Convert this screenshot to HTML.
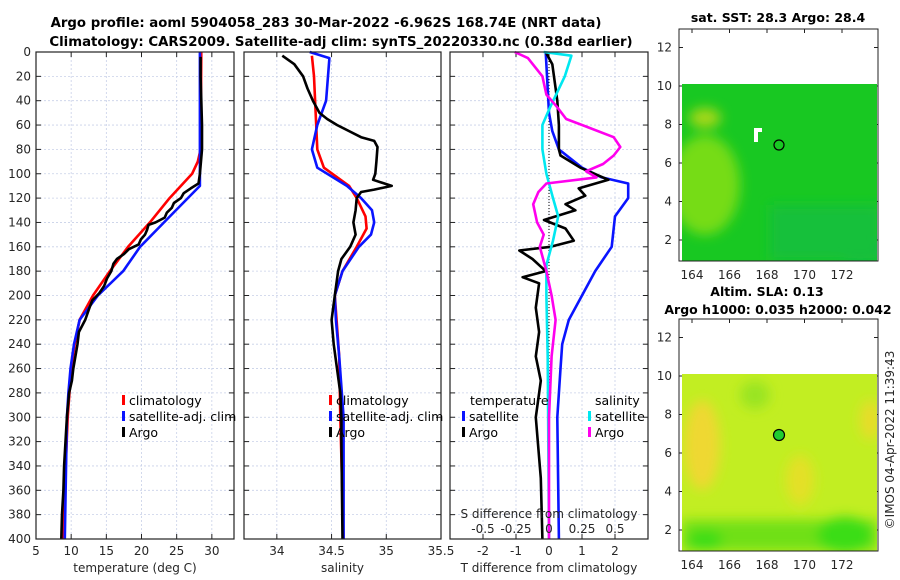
<!DOCTYPE html>
<html><head><meta charset="utf-8"><style>
body{margin:0;background:#fff;}
svg{display:block;font-family:"DejaVu Sans","Liberation Sans",sans-serif;}
.tk{font-size:12px;fill:#262626;}
.tt{font-size:12.5px;font-weight:bold;fill:#000;}
.big{font-size:13.3px;}
.lg{font-size:12.5px;fill:#000;}
</style></head><body>
<svg id="c" width="900" height="580" viewBox="0 0 900 580">
<defs><filter id="bl"><feGaussianBlur stdDeviation="6"/></filter>
<clipPath id="m1"><rect x="682" y="84" width="195" height="177"/></clipPath>
<clipPath id="m2"><rect x="682" y="374" width="195" height="177"/></clipPath></defs>
<text class="tt big" x="326" y="27" text-anchor="middle">Argo profile: aoml 5904058_283 30-Mar-2022 -6.962S 168.74E (NRT data)</text>
<text class="tt big" x="341" y="46" text-anchor="middle">Climatology: CARS2009. Satellite-adj clim: synTS_20220330.nc (0.38d earlier)</text>
<g id="g"></g>
<g>
<text class="tt" x="778" y="22" text-anchor="middle">sat. SST: 28.3 Argo: 28.4</text>
<g clip-path="url(#m1)">
<rect x="682" y="84" width="195" height="177" fill="#18c822"/>
<g filter="url(#bl)"><ellipse cx="705" cy="185" rx="35" ry="50" fill="#76dc16"/><ellipse cx="705" cy="118" rx="16" ry="10" fill="#a8d818"/><ellipse cx="860" cy="250" rx="30" ry="14" fill="#10b455"/><rect x="770" y="205" width="110" height="56" fill="#12c03a"/></g>
</g>
<rect x="754" y="128" width="4" height="14" fill="#fff"/><rect x="754" y="128" width="8" height="4" fill="#fff"/>
<circle cx="779" cy="145" r="5" fill="none" stroke="#000" stroke-width="1.2"/>
<rect x="679" y="29" width="199" height="232" fill="none" stroke="#222" stroke-width="1"/>
</g>
<g>
<text class="tt" x="767" y="296" text-anchor="middle">Altim. SLA: 0.13</text>
<text class="tt" x="778" y="314" text-anchor="middle">Argo h1000: 0.035 h2000: 0.042</text>
<g clip-path="url(#m2)">
<rect x="682" y="374" width="195" height="177" fill="#c2ee22"/>
<g filter="url(#bl)"><ellipse cx="702" cy="445" rx="18" ry="45" fill="#efd830"/><ellipse cx="800" cy="480" rx="14" ry="25" fill="#e4e028"/><ellipse cx="870" cy="420" rx="10" ry="20" fill="#e8dc2c"/><ellipse cx="755" cy="395" rx="15" ry="14" fill="#99e420"/><rect x="682" y="520" width="195" height="31" fill="#70e018"/><ellipse cx="845" cy="535" rx="28" ry="18" fill="#3add14"/><ellipse cx="705" cy="540" rx="18" ry="10" fill="#3add14"/></g>
</g>
<circle cx="779" cy="435" r="5.5" fill="#20cc30" stroke="#000" stroke-width="1.2"/>
<rect x="679" y="319" width="199" height="232" fill="none" stroke="#222" stroke-width="1"/>
</g>
<text class="tk" transform="translate(894,440) rotate(-90)" text-anchor="middle">©IMOS 04-Apr-2022 11:39:43</text>
</svg>
<script>
const depthTicks=[0,20,40,60,80,100,120,140,160,180,200,220,240,260,280,300,320,340,360,380,400];
const tTicks=[5,10,15,20,25,30];
const sTicks=[34,34.5,35,35.5];
const dTicks=[-2,-1,0,1,2];
const sdTickLabels=["-0.5","-0.25","0","0.25","0.5"];
const sdTicks=[-0.5,-0.25,0,0.25,0.5];
const lonTicks=[164,166,168,170,172];
const latTicks=[2,4,6,8,10,12];
// temperature
const climTd=[0,80,90,100,110,120,140,160,180,200,220,240,260,300,400];
const climT=[28.5,28.4,28.0,27.2,25.6,24.0,21.2,18.1,15.5,13.1,11.2,10.5,10.0,9.5,8.8];
const satTd=[0,110,140,160,180,200,220,240,260,280,300,400];
const satT=[28.3,28.3,23.2,19.8,17.4,13.8,11.2,10.4,9.9,9.6,9.4,9.1];
const argoTd=[4,20,40,60,80,100,108,112,116,120,124,128,132,136,140,142,146,150,154,158,162,166,170,174,180,186,192,198,204,210,220,230,240,250,260,270,280,300,320,340,360,380,400];
const argoT=[28.4,28.4,28.5,28.6,28.6,28.3,28.1,27.0,26.0,25.6,24.6,24.3,23.6,23.3,22.0,21.0,20.8,20.5,19.9,19.6,18.2,17.5,16.5,16.0,15.7,15.1,14.7,14.0,13.0,12.6,12.0,11.1,10.9,10.6,10.3,10.1,9.7,9.4,9.2,9.0,8.9,8.7,8.6];
// salinity
const climSd=[3,20,40,60,80,95,110,120,135,145,160,180,200,250,300,400];
const climS=[34.32,34.34,34.35,34.36,34.37,34.43,34.66,34.73,34.81,34.82,34.73,34.60,34.53,34.57,34.58,34.61];
const satSd=[0,5,40,60,80,95,110,120,130,140,150,160,180,200,220,250,300,400];
const satS=[34.30,34.48,34.45,34.37,34.32,34.37,34.64,34.77,34.87,34.89,34.86,34.75,34.60,34.53,34.54,34.57,34.61,34.61];
const argoSd=[3,10,20,30,40,50,55,60,65,70,73,78,90,100,105,110,113,115,120,130,140,150,160,170,180,200,220,240,260,280,300,320,400];
const argoS=[34.05,34.16,34.24,34.28,34.33,34.39,34.46,34.55,34.66,34.77,34.89,34.92,34.91,34.90,34.88,35.05,34.89,34.77,34.73,34.72,34.70,34.72,34.67,34.59,34.56,34.53,34.50,34.52,34.55,34.58,34.59,34.59,34.60];
// differences
const satDTd=[0,50,65,80,95,103,108,120,135,160,180,200,220,240,260,300,400];
const satDT=[-0.1,0.0,0.1,0.3,1.0,1.6,2.4,2.4,2.0,1.9,1.4,1.0,0.6,0.4,0.35,0.25,0.3];
const argoDTd=[0,10,40,60,80,85,95,105,112,118,125,130,138,145,155,160,163,170,175,180,185,190,210,230,250,270,300,350,400];
const argoDT=[-0.1,0.1,0.25,0.3,0.3,0.35,0.95,1.8,0.9,1.1,0.5,0.8,-0.15,0.5,0.75,0.05,-0.9,-0.5,-0.3,-0.1,-0.8,-0.3,-0.4,-0.3,-0.4,-0.25,-0.4,-0.25,-0.2];
const satDSd=[0,3,20,45,60,80,100,120,135,155,175,200,250,400];
const satDS=[-0.04,0.17,0.12,0.01,-0.05,-0.05,-0.02,0.03,0.07,0.03,-0.02,-0.02,-0.01,0.0];
const argoDSd=[0,5,20,35,45,55,62,70,78,85,92,98,103,108,115,125,140,150,160,180,200,220,250,300,400];
const argoDS=[-0.26,-0.16,-0.05,-0.02,0.06,0.13,0.30,0.49,0.54,0.49,0.41,0.28,0.36,-0.02,-0.08,-0.12,-0.09,-0.04,-0.07,-0.02,0.02,0.05,0.02,0.0,0.0];

const NS='http://www.w3.org/2000/svg';
const G=document.getElementById('g');
function mk(t,a,p){const e=document.createElementNS(NS,t);for(const k in a)e.setAttribute(k,a[k]);(p||G).appendChild(e);return e;}
const Y0=52,Y1=539,yD=d=>Y0+d/400*(Y1-Y0);
const panels=[
 {x0:36,x1:234,v0:5,v1:33.15,ticks:tTicks,name:'temperature-panel',xl:'temperature (deg C)',fmt:v=>String(v)},
 {x0:244,x1:441,v0:33.7,v1:35.5,ticks:sTicks,name:'salinity-panel',xl:'salinity',fmt:v=>String(v)},
 {x0:450,x1:648,v0:-3,v1:3,ticks:dTicks,name:'difference-panel',xl:'T difference from climatology',fmt:v=>String(v)}];
panels.forEach(p=>{p.sx=v=>p.x0+(v-p.v0)/(p.v1-p.v0)*(p.x1-p.x0);});
panels.forEach((p,i)=>{
 const g=mk('g',{});
 
 
 depthTicks.forEach(d=>{const y=yD(d);
  mk('line',{x1:p.x0,x2:p.x1,y1:y,y2:y,stroke:'#c8d0e8','stroke-width':0.8,'stroke-dasharray':'2,2'},g);
  mk('line',{x1:p.x0,x2:p.x0+5,y1:y,y2:y,stroke:'#222'},g);mk('line',{x1:p.x1-5,x2:p.x1,y1:y,y2:y,stroke:'#222'},g);});
 p.ticks.forEach(v=>{const x=p.sx(v);
  mk('line',{x1:x,x2:x,y1:Y0,y2:Y1,stroke:'#c8d0e8','stroke-width':0.8,'stroke-dasharray':'2,2'},g);
  mk('line',{x1:x,x2:x,y1:Y1-5,y2:Y1,stroke:'#222'},g);mk('line',{x1:x,x2:x,y1:Y0,y2:Y0+5,stroke:'#222'},g);
  const t=mk('text',{class:'tk',x:x,y:555,'text-anchor':'middle'},g);t.textContent=p.fmt(v);});
 const xl=mk('text',{class:'tk','font-size':'13',x:(p.x0+p.x1)/2,y:572,'text-anchor':'middle'},g);xl.textContent=p.xl;
 
 
});
depthTicks.forEach(d=>{const t=mk('text',{class:'tk',x:31,y:yD(d)+4,'text-anchor':'end'});t.textContent=d;});
function line(p,vals,deps,col,name,scale){
 const pts=vals.map((v,i)=>p.sx(v*(scale||1)).toFixed(1)+','+yD(deps[i]).toFixed(1)).join(' ');
 const e=mk('polyline',{points:pts,fill:'none',stroke:col,'stroke-width':2.6,'stroke-linejoin':'round'});
 
 
}
const P=panels;
line(P[0],climT,climTd,'#ff0000','clim-temperature-line');
line(P[0],satT,satTd,'#0a14ff','sat-temperature-line');
line(P[0],argoT,argoTd,'#000','argo-temperature-line');
line(P[1],climS,climSd,'#ff0000','clim-salinity-line');
line(P[1],satS,satSd,'#0a14ff','sat-salinity-line');
line(P[1],argoS,argoSd,'#000','argo-salinity-line');
mk('line',{x1:P[2].sx(0),x2:P[2].sx(0),y1:Y0,y2:Y1,stroke:'#000','stroke-width':1,'stroke-dasharray':'1,2'});
line(P[2],satDT,satDTd,'#0a14ff','sat-tdiff-line');
line(P[2],argoDT,argoDTd,'#000','argo-tdiff-line');
line(P[2],satDS,satDSd,'#00e8f0','sat-sdiff-line',4);
line(P[2],argoDS,argoDSd,'#ff00ee','argo-sdiff-line',4);
const sl=mk('text',{class:'tk','font-size':'13',x:549,y:518,'text-anchor':'middle'});sl.textContent='S difference from climatology';
sdTicks.forEach((v,i)=>{const t=mk('text',{class:'tk',x:P[2].sx(v*4),y:533,'text-anchor':'middle'});t.textContent=sdTickLabels[i];});
panels.forEach(p=>mk('rect',{x:p.x0,y:Y0,width:p.x1-p.x0,height:Y1-Y0,fill:'none',stroke:'#222','stroke-width':1.2}));
function leg(x,y,col,txt,name){
 mk('rect',{x:x,y:y-10,width:3,height:10,fill:col});
 const t=mk('text',{class:'lg',x:x+7,y:y});t.textContent=txt;
 
 
}
leg(122,405,'#ff0000','climatology','legend-clim-t');leg(122,421,'#0a14ff','satellite-adj. clim','legend-sat-t');leg(122,437,'#000','Argo','legend-argo-t');
leg(329,405,'#ff0000','climatology','legend-clim-s');leg(329,421,'#0a14ff','satellite-adj. clim','legend-sat-s');leg(329,437,'#000','Argo','legend-argo-s');
const th=mk('text',{class:'lg',x:470,y:405});th.textContent='temperature';
const sh=mk('text',{class:'lg',x:595,y:405});sh.textContent='salinity';
leg(462,421,'#0a14ff','satellite','legend-sat-tdiff');leg(462,437,'#000','Argo','legend-argo-tdiff');
leg(588,421,'#00e8f0','satellite','legend-sat-sdiff');leg(588,437,'#ff00ee','Argo','legend-argo-sdiff');
// map axes
const lonX=l=>692+(l-164)*18.75;
[0,290].forEach(off=>{
 const latY=l=>off+86+(10-l)*19.25;
 lonTicks.forEach(l=>{const x=lonX(l);
  mk('line',{x1:x,x2:x,y1:off+261,y2:off+257,stroke:'#222'});mk('line',{x1:x,x2:x,y1:off+29,y2:off+33,stroke:'#222'});
  const t=mk('text',{class:'tk',x:x,y:off+279,'text-anchor':'middle'});t.textContent=l;});
 latTicks.forEach(l=>{const y=latY(l);
  mk('line',{x1:679,x2:683,y1:y,y2:y,stroke:'#222'});mk('line',{x1:874,x2:878,y1:y,y2:y,stroke:'#222'});
  const t=mk('text',{class:'tk',x:672,y:y+4,'text-anchor':'end'});t.textContent=l;});
});
</script>
</body></html>
